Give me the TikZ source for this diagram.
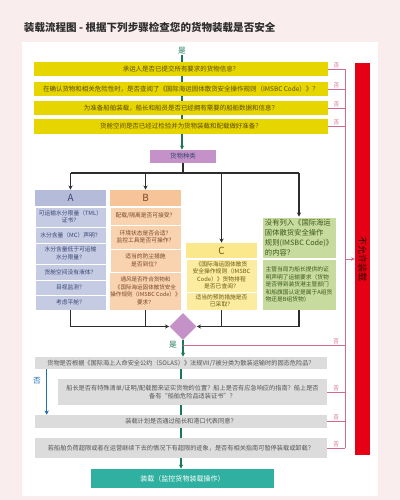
\documentclass[tikz,border=0pt]{standalone}
\usepackage{fontspec}
\setmainfont{Noto Sans CJK SC}
\usetikzlibrary{arrows.meta,shapes.geometric}

\definecolor{bgpink}{RGB}{249,237,237}
\definecolor{qyellow}{RGB}{231,213,0}
\definecolor{ytext}{RGB}{90,75,10}
\definecolor{qgrey}{RGB}{220,220,220}
\definecolor{gtext}{RGB}{85,85,85}
\definecolor{trunkgreen}{RGB}{28,118,88}
\definecolor{branchgrey}{RGB}{45,45,45}
\definecolor{nopink}{RGB}{206,108,138}
\definecolor{kindpurple}{RGB}{196,146,201}
\definecolor{ahead}{RGB}{180,188,217}
\definecolor{aback}{RGB}{197,203,227}
\definecolor{atext}{RGB}{55,70,115}
\definecolor{bhead}{RGB}{247,196,154}
\definecolor{bback}{RGB}{249,210,176}
\definecolor{btext}{RGB}{120,70,40}
\definecolor{chead}{RGB}{252,232,140}
\definecolor{cback}{RGB}{252,236,160}
\definecolor{ctext}{RGB}{105,90,20}
\definecolor{dback}{RGB}{199,219,158}
\definecolor{dtext}{RGB}{60,90,25}
\definecolor{loadteal}{RGB}{47,176,160}
\definecolor{stopred}{RGB}{229,0,22}
\definecolor{noblue}{RGB}{31,111,181}

\begin{document}
\begin{tikzpicture}[x=0.025cm,y=-0.025cm,
   every node/.style={inner sep=0.5pt},
   ybox/.style={fill=qyellow,minimum width=7.325cm,minimum height=0.35cm,
     text=ytext,font=\fontsize{4.6}{5.6}\selectfont},
   gbox/.style={fill=qgrey,text=gtext,align=center,
     font=\fontsize{4.4}{6}\selectfont},
   cell/.style={draw=white,line width=0.5pt,align=center,
     font=\fontsize{4.1}{5.3}\selectfont},
   acell/.style={cell,fill=aback,text=atext,minimum width=1.775cm},
   bcell/.style={cell,fill=bback,text=btext,minimum width=1.775cm},
   ccell/.style={cell,fill=cback,text=ctext,minimum width=1.775cm},
   dcell/.style={cell,fill=dback,text=dtext,minimum width=1.85cm,align=left},
   head/.style={font=\fontsize{7}{8}\selectfont,minimum height=0.4cm},
   trunk/.style={draw=trunkgreen,line width=0.9pt},
   branch/.style={draw=branchgrey,line width=0.9pt},
   noline/.style={draw=nopink,line width=0.6pt},
   nolabel/.style={text=nopink,font=\fontsize{4}{5}\selectfont,above},
   tip/.style={-{Stealth[length=3pt,width=3pt]}}]

% page and panel
\fill[bgpink] (0,0) rectangle (400,500);
\fill[white] (22,42) rectangle (378,496);
\node[anchor=west,text=branchgrey,font=\fontsize{7.5}{8}\selectfont\bfseries] (title) at (23,27)
  {装载流程图 - 根据下列步骤检查您的货物装载是否安全};

% first checks
\node[text=trunkgreen,font=\fontsize{5.5}{6}\selectfont] (yes1) at (182,51) {是};
\node[ybox] (q1) at (181,69) {承运人是否已提交所有要求的货物信息？};
\node[ybox] (q2) at (181,89) {在确认货物和相关危险性时，是否查阅了《国际海运固体散货安全操作规则（IMSBC Code）》？};
\node[ybox] (q3) at (181,108) {为准备船舶装载，船长和船员是否已经拥有需要的船舶数据和信息？};
\node[ybox] (q4) at (181,126.5) {货舱空间是否已经过检验并为货物装载和配载做好准备？};
\node[fill=kindpurple,minimum width=1.65cm,minimum height=0.325cm,text=atext,
  font=\fontsize{4.6}{5.6}\selectfont] (kind) at (183,156.5) {货物种类};

\draw[trunk] (yes1) -- (yes1 |- q1.north);
\draw[trunk] (yes1 |- q1.south) -- (yes1 |- q2.north);
\draw[trunk] (yes1 |- q2.south) -- (yes1 |- q3.north);
\draw[trunk] (yes1 |- q3.south) -- (yes1 |- q4.north);
\draw[trunk,tip] (yes1 |- q4.south) -- (yes1 |- kind.north);

% cargo groups
\node[head,fill=ahead,text=atext,minimum width=1.775cm] (ahd) at (70.5,198) {A};
\node[acell,minimum height=0.5cm] (a1) at (70.5,217) {可运输水分限量（TML）\\证书？};
\node[acell,minimum height=0.4cm] (a2) at (70.5,235) {水分含量（MC）声明？};
\node[acell,minimum height=0.525cm] (a3) at (70.5,253.5) {水分含量低于可运输\\水分限量？};
\node[acell,minimum height=0.4cm] (a4) at (70.5,272) {货舱空间没有液体？};
\node[acell,minimum height=0.375cm] (a5) at (70.5,287.5) {目视监测？};
\node[acell,minimum height=0.375cm] (a6) at (70.5,302.5) {考虑平舱？};

\node[head,fill=bhead,text=btext,minimum width=1.775cm] (bhd) at (145.5,198) {B};
\node[bcell,minimum height=0.45cm] (b1) at (145.5,216) {配载/隔离是否可接受？};
\node[bcell,minimum height=0.6cm] (b2) at (145.5,237) {环境状态是否合适？\\监控工具是否可操作？};
\node[bcell,minimum height=0.575cm] (b3) at (145.5,260.5) {适当的防尘措施\\是否到位？};
\node[bcell,minimum height=0.95cm,font=\fontsize{3.95}{5.3}\selectfont] (b4) at (145.5,291)
  {通风是否符合货物和\\《国际海运固体散货安全\\操作规则（IMSBC Code）》\\要求？};

\node[head,fill=chead,text=ctext,minimum width=1.775cm,minimum height=0.375cm] (chd) at (221.5,250.5) {C};
\node[ccell,minimum height=0.825cm] (c1) at (221.5,275.5)
  {《国际海运固体散货\\安全操作规则（IMSBC\\Code）》货物排程\\是否已查阅？};
\node[ccell,minimum height=0.45cm] (c2) at (221.5,301) {适当的预防措施是否\\已采取？};

\node[dcell,minimum height=1.025cm,font=\fontsize{5.2}{7}\selectfont] (dhd) at (299,237.5)
  {没有列入《国际海运\\固体散货安全操作\\规则(IMSBC Code)》\\的内容？};
\node[dcell,minimum height=1.275cm] (d1) at (299,284.5)
  {主管当局为船长提供的证\\明声明了运输要求（货物\\是否得到装货港主管部门\\和船旗国认定是属于A组货\\物还是B组货物）};

\draw[branch] (kind.south) -- (kind.south |- 0,173);
\draw[branch] (ahd.north |- 0,173) -- (dhd.north |- 0,173);
\draw[branch,tip] (ahd.north |- 0,173) -- (ahd.north);
\draw[branch,tip] (bhd.north |- 0,173) -- (bhd.north);
\draw[branch,tip] (chd.north |- 0,173) -- (chd.north);
\draw[branch,tip] (dhd.north |- 0,173) -- (dhd.north);

% merge
\node[diamond,fill=kindpurple,minimum width=0.68cm,minimum height=0.68cm,inner sep=0pt] (join) at (183,326.5) {};
\draw[branch,tip] (a6.south) |- (join.west);
\draw[branch] (b4.south) -- (b4.south |- join.west);
\draw[branch,tip] (d1.south) |- (join.east);
\draw[branch] (c2.south) -- (c2.south |- join.east);

% second checks
\node[text=trunkgreen,font=\fontsize{5.5}{6}\selectfont] (yes2) at (173,345) {是};
\node[gbox,minimum width=7.3cm,minimum height=0.3cm] (q5) at (181,363)
  {货物是否根据《国际海上人命安全公约（SOLAS）》法规VII/7被分类为散装运输时的固态危险品？};
\node[gbox,minimum width=6.725cm,minimum height=0.65cm] (q6) at (192.5,392)
  {船长是否有特殊清单/证明/配载图来证实货物的位置？船上是否有应急响应的指南？船上是否\\备有“船舶危险品适装证书”？};
\node[gbox,minimum width=7.3cm,minimum height=0.325cm] (q7) at (181,421.5)
  {装载计划是否通过船长和港口代表同意？};
\node[gbox,minimum width=7.3cm,minimum height=0.5cm] (q8) at (181,448)
  {若船舶负荷超限或者在运营继续下去的情况下有超限的迹象，是否有相关指南可暂停装载或卸载？};
\node[fill=loadteal,minimum width=4.575cm,minimum height=0.475cm,text=white,
  font=\fontsize{5}{6}\selectfont] (load) at (182.5,478.5) {装载（监控货物装载操作）};

\coordinate (dno) at (join.south |- yes2);
\draw[trunk,tip] (join.south) -- (join.south |- q5.north);
\draw[trunk] (q5.south) -- (q5.south |- q6.north);
\draw[trunk] (q7.north |- q6.south) -- (q7.north);
\draw[trunk] (q7.south) -- (q8.north);
\draw[trunk,tip] (q8.south) -- (q8.south |- load.north);

% not first: dangerous goods skip
\node[text=noblue,font=\fontsize{5.5}{6}\selectfont] (nob) at (37,381) {否};
\draw[draw=noblue,line width=0.9pt,tip] ([xshift=0.3cm]q5.south west) -- ([xshift=0.3cm]q7.north west);

% no branches
\coordinate (bus) at (345,0);
\node[fill=stopred,minimum width=0.375cm,minimum height=9.8cm] (stop) at (362.5,259) {};
\node[rotate=-90,text=black!80!red,font=\fontsize{6.5}{7}\selectfont] (stoptext) at (stop.center) {不允许装载};
\foreach \q in {q1,q2,q3,q4,q6,q7,q8}
  \draw[noline] (\q.east) -- node[nolabel] {否} (\q.east -| bus);
\draw[noline] (dno) -- node[nolabel,pos=0.945] {否} (dno -| bus);
\draw[noline] (q1.east -| bus) -- (q8.east -| bus);
\draw[noline,-{Stealth[length=2.5pt,width=2.5pt]}] (stop.west -| bus) -- (stop.west);
\end{tikzpicture}
\end{document}
